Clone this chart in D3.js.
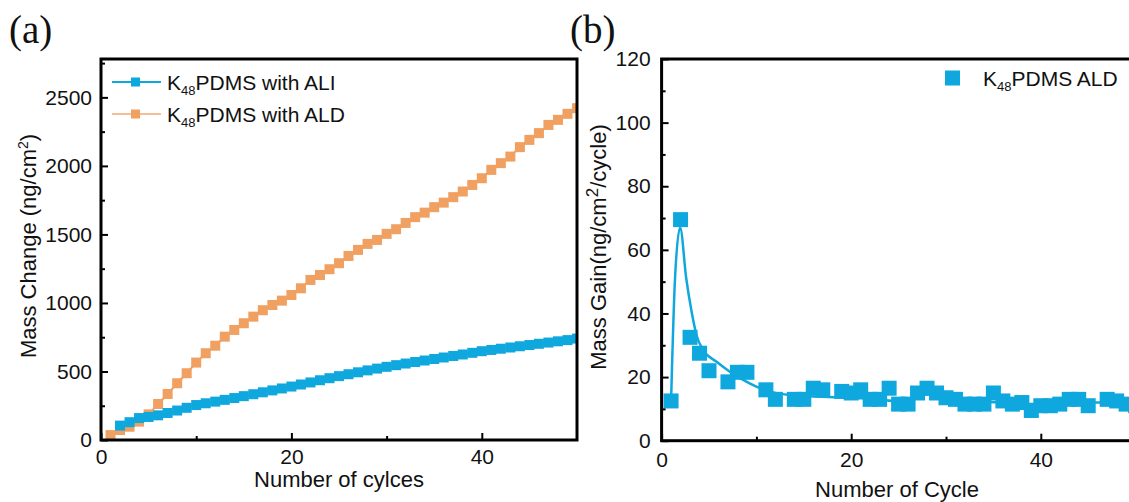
<!DOCTYPE html>
<html>
<head>
<meta charset="utf-8">
<script src="https://cdn.jsdelivr.net/npm/d3@7"></script>
<style>
  body { margin: 0; background: #fff; }
  text { font-family: "Liberation Sans", Arial, sans-serif; fill: #111; }
</style>
</head>
<body>
<script>
// ---- panel (a) data: mass change vs cycle ----
const cyclesA = [1,2,3,4,5,6,7,8,9,10,11,12,13,14,15,16,17,18,19,20,21,22,23,24,25,
  26,27,28,29,30,31,32,33,34,35,36,37,38,39,40,41,42,43,44,45,46,47,48,49,50];
const aldMass = [36,73,97,134,187,263,336,414,487,565,633,688,754,803,852,900,947,985,1017,1058,
  1107,1168,1204,1246,1290,1343,1387,1431,1460,1504,1538,1584,1626,1659,1699,1732,1772,1813,1861,1910,
  1971,2020,2068,2137,2190,2239,2299,2336,2380,2421];
const cyclesALI = [2,3,4,5,6,7,8,9,10,11,12,13,14,15,16,17,18,19,20,21,22,23,24,25,
  26,27,28,29,30,31,32,33,34,35,36,37,38,39,40,41,42,43,44,45,46,47,48,49,50];
const aliMass = [105,130,160,168,180,197,215,235,255,268,280,293,306,320,334,348,362,376,390,
  405,420,436,451,466,480,494,508,521,534,546,558,569,580,591,602,613,624,636,648,
  657,666,675,684,693,702,711,720,729,740];
const ticksA_y = [0,500,1000,1500,2000,2500];
const ticksA_x = [0,20,40];

// ---- panel (b) data: mass gain per cycle ----
const cyclesB = [1,2,3,4,5,7,8,9,11,12,14,15,16,17,19,20,21,22,23,24,25,26,27,28,29,30,
  31,32,33,34,35,36,37,38,39,40,41,42,43,44,45,47,48,49,50];
const gainB = [12.5,69.5,32.5,27.5,22,18.5,21.5,21.5,16,13,13,13,16.5,16,15.5,15,16,13,13,16.5,11.5,11.5,15,16.5,15,13.5,
  13,11.5,11.5,11.5,15,12.5,11.5,12,9.5,11,11,11.5,13,13,11,13,12.5,11.5,11];
const fitX = [1,1.4,1.95,2.6,3.2,3.7,4.4,5.8,7.2,8.6,10,11.8,13.5,17,20,22.3,24.5,26,28,30,33,36,40,44,48,50];
const fitY = [12.5,50,67,51,40,33,28.5,24.8,21.7,19.1,17,15.2,14.4,13.8,13.4,13.2,12.5,13,14.5,14,12.5,12,11.5,12,12,11.8];
const ticksB_y = [0,20,40,60,80,100,120];
const ticksB_x = [0,20,40];

const blue = '#0FA8DE';
const orange = '#F0A060';
const orangeLight = '#F5BE96';
const fmt = d3.format('d');

const svg = d3.select('body').append('svg')
  .attr('width', 1129).attr('height', 502);

// ================= panel (a) =================
const xA = d3.scaleLinear().domain([0, 50]).range([101, 577]);
const yA = d3.scaleLinear().domain([0, 2780]).range([440, 59]);

const gA = svg.append('g');
svg.append('clipPath').attr('id', 'clipA')
  .append('rect').attr('x', 101).attr('y', 59).attr('width', 476).attr('height', 381);

const plotA = gA.append('g').attr('clip-path', 'url(#clipA)');

// ALD (orange)
plotA.append('path')
  .datum(cyclesA.map((c, i) => [c, aldMass[i]]))
  .attr('fill', 'none').attr('stroke', orange).attr('stroke-width', 2)
  .attr('d', d3.line().x(d => xA(d[0])).y(d => yA(d[1])));
plotA.selectAll('rect.ald').data(cyclesA).join('rect')
  .attr('x', (c) => xA(c) - 5).attr('y', (c, i) => yA(aldMass[i]) - 5)
  .attr('width', 10).attr('height', 10).attr('fill', orange);

// ALI (blue)
plotA.append('path')
  .datum(cyclesALI.map((c, i) => [c, aliMass[i]]))
  .attr('fill', 'none').attr('stroke', blue).attr('stroke-width', 2)
  .attr('d', d3.line().x(d => xA(d[0])).y(d => yA(d[1])));
plotA.selectAll('rect.ali').data(cyclesALI).join('rect')
  .attr('x', (c) => xA(c) - 5).attr('y', (c, i) => yA(aliMass[i]) - 5)
  .attr('width', 10).attr('height', 10).attr('fill', blue);

// axes (ticks inward)
function styleAxis(g) {
  g.select('.domain').remove();
  g.selectAll('line').attr('stroke', '#000').attr('stroke-width', 2);
  g.selectAll('text').style('font-size', '21px').style('font-family', '"Liberation Sans", Arial, sans-serif').attr('fill', '#111');
}
gA.append('g').attr('transform', 'translate(101,0)')
  .call(d3.axisLeft(yA).tickValues(ticksA_y).tickSize(-7).tickPadding(9).tickFormat(fmt)).call(styleAxis);
gA.append('g').attr('transform', 'translate(101,0)')
  .call(d3.axisLeft(yA).tickValues([250,750,1250,1750,2250,2750]).tickSize(-4).tickFormat('')).call(styleAxis);
gA.append('g').attr('transform', 'translate(0,440)')
  .call(d3.axisBottom(xA).tickValues(ticksA_x).tickSize(-7).tickPadding(9).tickFormat(fmt)).call(styleAxis);
gA.append('g').attr('transform', 'translate(0,440)')
  .call(d3.axisBottom(xA).tickValues([10,30]).tickSize(-4).tickFormat('')).call(styleAxis);

gA.append('rect').attr('x', 101).attr('y', 59).attr('width', 476).attr('height', 381)
  .attr('fill', 'none').attr('stroke', '#000').attr('stroke-width', 3);

// titles
gA.append('text').attr('x', 339).attr('y', 487).attr('text-anchor', 'middle')
  .style('font-size', '22px').text('Number of cylces');
const yTitleA = gA.append('text').attr('transform', 'translate(36,246) rotate(-90)')
  .attr('text-anchor', 'middle').style('font-size', '22px');
yTitleA.append('tspan').text('Mass Change (ng/cm');
yTitleA.append('tspan').attr('dy', -8).style('font-size', '14px').text('2');
yTitleA.append('tspan').attr('dy', 8).text(')');

// legend
const legA = [
  { label: 'with ALI', color: blue, line: blue, y: 82 },
  { label: 'with ALD', color: orange, line: orangeLight, y: 114 }
];
legA.forEach(d => {
  gA.append('line').attr('x1', 112).attr('x2', 161).attr('y1', d.y).attr('y2', d.y)
    .attr('stroke', d.line).attr('stroke-width', 2);
  gA.append('rect').attr('x', 131).attr('y', d.y - 4.5).attr('width', 9).attr('height', 9).attr('fill', d.color);
  const t = gA.append('text').attr('x', 167).attr('y', d.y + 7.5).style('font-size', '21px');
  t.append('tspan').text('K');
  t.append('tspan').attr('dy', 5).style('font-size', '13px').text('48');
  t.append('tspan').attr('dy', -5).text('PDMS ' + d.label);
});

svg.append('text').attr('x', 9).attr('y', 43)
  .style('font-family', '"Liberation Serif", "Times New Roman", serif').style('font-size', '39px')
  .text('(a)');

// ================= panel (b) =================
const xB = d3.scaleLinear().domain([0, 50]).range([661.6, 1135.6]);
const yB = d3.scaleLinear().domain([0, 120]).range([440.7, 59]);

const gB = svg.append('g');
svg.append('clipPath').attr('id', 'clipB')
  .append('rect').attr('x', 661.6).attr('y', 59).attr('width', 474).attr('height', 381.7);
const plotB = gB.append('g').attr('clip-path', 'url(#clipB)');

plotB.selectAll('rect.pt').data(cyclesB).join('rect')
  .attr('x', c => xB(c) - 7.5).attr('y', (c, i) => yB(gainB[i]) - 7.5)
  .attr('width', 15).attr('height', 15).attr('fill', blue);

plotB.append('path')
  .datum(fitX.map((x, i) => [x, fitY[i]]))
  .attr('fill', 'none').attr('stroke', blue).attr('stroke-width', 2.5)
  .attr('d', d3.line().curve(d3.curveMonotoneX).x(d => xB(d[0])).y(d => yB(d[1])));

gB.append('g').attr('transform', 'translate(661.6,0)')
  .call(d3.axisLeft(yB).tickValues(ticksB_y).tickSize(-7).tickPadding(11).tickFormat(fmt)).call(styleAxis);
gB.append('g').attr('transform', 'translate(661.6,0)')
  .call(d3.axisLeft(yB).tickValues([10,30,50,70,90,110]).tickSize(-4).tickFormat('')).call(styleAxis);
gB.append('g').attr('transform', 'translate(0,440.7)')
  .call(d3.axisBottom(xB).tickValues(ticksB_x).tickSize(-7).tickPadding(11).tickFormat(fmt)).call(styleAxis);
gB.append('g').attr('transform', 'translate(0,440.7)')
  .call(d3.axisBottom(xB).tickValues([10,30,50]).tickSize(-4).tickFormat('')).call(styleAxis);

gB.append('rect').attr('x', 661.6).attr('y', 59).attr('width', 474).attr('height', 381.7)
  .attr('fill', 'none').attr('stroke', '#000').attr('stroke-width', 3);

gB.append('text').attr('x', 897).attr('y', 497).attr('text-anchor', 'middle')
  .style('font-size', '22px').text('Number of Cycle');
const yTitleB = gB.append('text').attr('transform', 'translate(606,247) rotate(-90)')
  .attr('text-anchor', 'middle').style('font-size', '22px');
yTitleB.append('tspan').text('Mass Gain(ng/cm');
yTitleB.append('tspan').attr('dy', -8).style('font-size', '17px').text('2');
yTitleB.append('tspan').attr('dy', 8).text('/cycle)');

// legend (b)
gB.append('rect').attr('x', 945).attr('y', 70.5).attr('width', 15).attr('height', 15).attr('fill', blue);
const tB = gB.append('text').attr('x', 983).attr('y', 86).style('font-size', '21px');
tB.append('tspan').text('K');
tB.append('tspan').attr('dy', 5).style('font-size', '13px').text('48');
tB.append('tspan').attr('dy', -5).text('PDMS ALD');

svg.append('text').attr('x', 570).attr('y', 43)
  .style('font-family', '"Liberation Serif", "Times New Roman", serif').style('font-size', '39px')
  .text('(b)');
</script>
</body>
</html>
